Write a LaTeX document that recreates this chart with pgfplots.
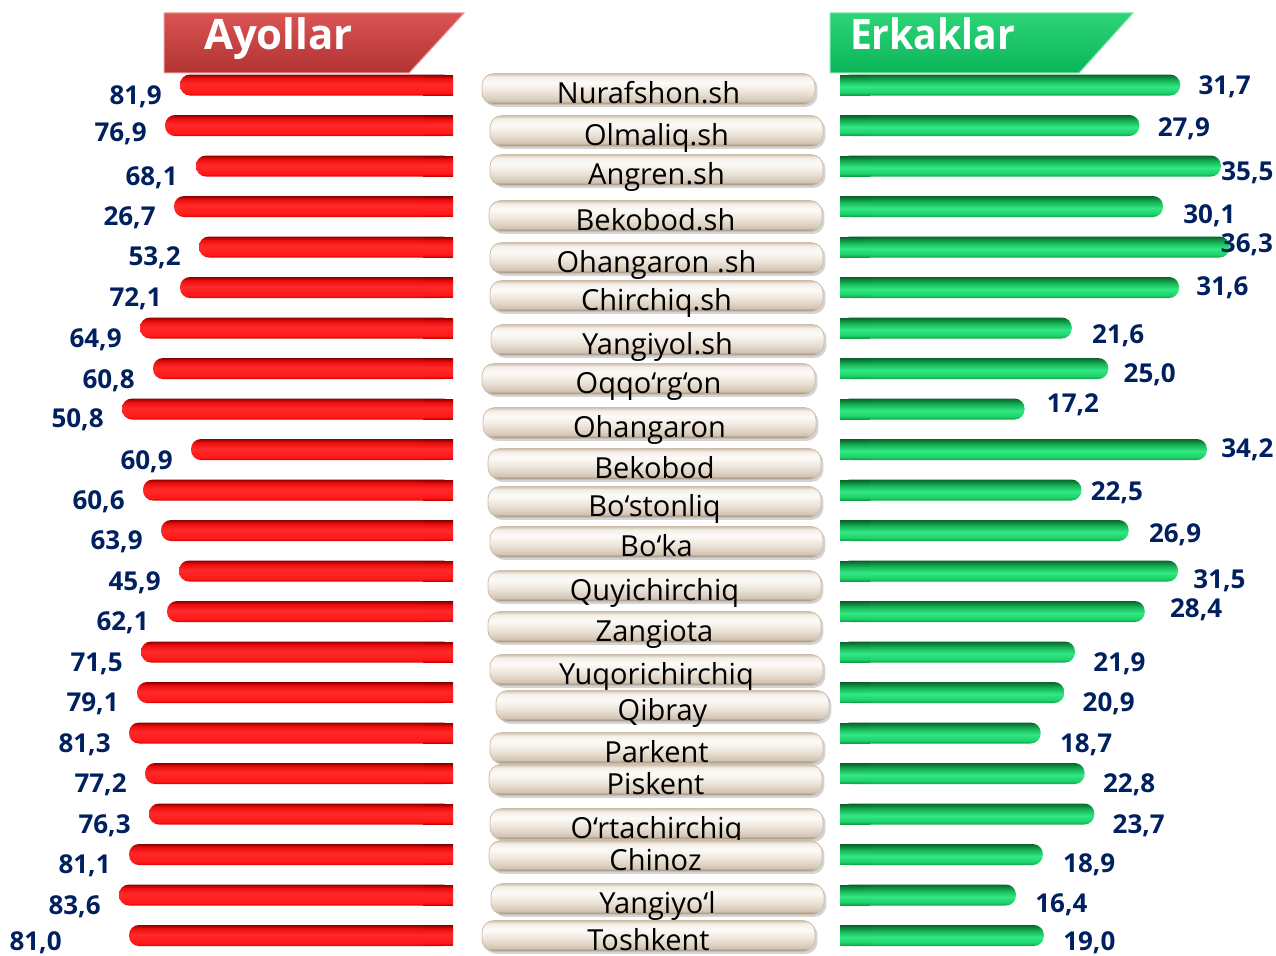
\documentclass[border=0pt]{standalone}
\usepackage{fontspec}
\setmainfont{Open Sans}
\usepackage{pgfplots}
\pgfplotsset{compat=1.18}
\usepackage{pgfplotstable}
\usetikzlibrary{shadows}

\definecolor{navy}{RGB}{0,32,96}
% red bar shading (25bp = bottom edge, 75bp = top edge after 90deg rotation)
\definecolor{rA}{RGB}{205,0,0}
\definecolor{rB}{RGB}{255,24,24}
\definecolor{rC}{RGB}{255,42,42}
\definecolor{rD}{RGB}{235,12,12}
\definecolor{rE}{RGB}{140,0,0}
\pgfdeclarehorizontalshading{redbar}{100bp}{color(0bp)=(rA); color(25bp)=(rA); color(31bp)=(rB); color(52bp)=(rC); color(67bp)=(rD); color(75bp)=(rE); color(100bp)=(rE)}
% green bar shading
\definecolor{gA}{RGB}{16,160,72}
\definecolor{gB}{RGB}{30,210,105}
\definecolor{gC}{RGB}{50,232,132}
\definecolor{gD}{RGB}{22,180,86}
\definecolor{gE}{RGB}{8,100,42}
\pgfdeclarehorizontalshading{greenbar}{100bp}{color(0bp)=(gA); color(25bp)=(gA); color(32bp)=(gB); color(46bp)=(gC); color(61bp)=(gD); color(75bp)=(gE); color(100bp)=(gE)}
% label box shading
\definecolor{bA}{RGB}{150,135,118}
\definecolor{bB}{RGB}{212,198,180}
\definecolor{bC}{RGB}{236,228,217}
\definecolor{bD}{RGB}{253,251,248}
\definecolor{bE}{RGB}{244,238,230}
\definecolor{bF}{RGB}{205,192,176}
\pgfdeclarehorizontalshading{boxshade}{100bp}{color(0bp)=(bA); color(25bp)=(bA); color(31bp)=(bB); color(45bp)=(bC); color(60bp)=(bD); color(70bp)=(bE); color(75bp)=(bF); color(100bp)=(bF)}
\definecolor{banR1}{RGB}{218,84,84}
\definecolor{banR2}{RGB}{178,50,50}
\definecolor{banG1}{RGB}{45,212,120}
\definecolor{banG2}{RGB}{10,182,88}

% row, drawn length of the red bar (px), female value, male value, label offsets (px)
\pgfplotstableread{
row len fv mv rdx rdy ldx ldy
1 273 81.9 31.7 18 0 -18 10
2 288 76.9 27.9 18 2 -18 7
3 257 68.1 35.5 0 5 -18 10
4 279 26.7 30.1 20 8 -18 10
5 254 53.2 36.3 -9 -4 -18 9
6 273 72.1 31.6 17 -1 -18 10
7 313 64.9 21.6 20 6 -18 10
8 300 60.8 25.0 15 5 -18 11
9 331 50.8 17.2 22 -6 -18 9
10 262 60.9 34.2 14 -1 -18 11
11 310 60.6 22.5 9 1 -18 10
12 292 63.9 26.9 20 3 -18 10
13 274 45.9 31.5 15 8 -18 10
14 286 62.1 28.4 25 -3 -18 10
15 312 71.5 21.9 18 10 -18 10
16 316 79.1 20.9 18 10 -18 10
17 324 81.3 18.7 19 10 -18 10
18 308 77.2 22.8 18 10 -18 10
19 304 76.3 23.7 18 10 -18 10
20 324 81.1 18.9 20 9 -18 10
21 334 83.6 16.4 19 8 -18 10
22 324 81.0 19.0 19 6 -67 6
}\data

\pgfplotstableread{
bx by name
648.5 89 Nurafshon.sh
656.5 131 Olmaliq.sh
656.5 170 Angren.sh
655.5 216 Bekobod.sh
656.5 258 {Ohangaron .sh}
656.5 296 Chirchiq.sh
657.5 340 Yangiyol.sh
648.5 379 Oqqo‘rg‘on
649.5 423 Ohangaron
654.5 464 Bekobod
654.5 502 Bo‘stonliq
656.5 542 Bo‘ka
654.5 586 Quyichirchiq
654.5 627 Zangiota
656.5 670 Yuqorichirchiq
662.5 706 Qibray
656.5 748 Parkent
655.5 780 Piskent
656.5 824 O‘rtachirchiq
655.5 856 Chinoz
657.5 899 Yangiyo‘l
648.5 936 Toshkent
}\names

\pgfplotsset{
  frame/.style={hide axis, scale only axis, anchor=south west,
    height=477.5pt, ymin=-1.098765, ymax=22.481481, y dir=reverse,
    enlargelimits=false},
  onebar/.style={xbar, bar width=0.5185, bar shift=0pt, draw=none,
    restrict y to domain=#1:#1, unbounded coords=discard},
  coverbar/.style={onebar=#1, bar width=0.494},
  numlab/.style={point meta=explicit,
    nodes near coords={\pgfmathprintnumber[fixed, fixed zerofill, precision=1, use comma, assume math mode=true]{\pgfplotspointmeta}}},
}
\tikzset{
  vfont/.style={font=\fontsize{13pt}{13pt}\selectfont\bfseries, text=navy,
    inner sep=0pt, text height=9.3pt, text depth=0pt},
}

\begin{document}
\begin{tikzpicture}
\path[use as bounding box] (0,0) rectangle (638pt,477.5pt);

% banners
\begin{scope}[x=0.5pt, y=-0.5pt, shift={(0pt,477.5pt)}]
  \shade[top color=banR1, bottom color=banR2, draw=banR1!60!white, line width=0.5pt]
    (164,13) -- (464,13) -- (409,73) -- (164,73) -- cycle;
  \node[anchor=base, text=white, font=\fontsize{21pt}{21pt}\selectfont\bfseries]
    at (278.5,50) {Ayollar};
  \shade[top color=banG1, bottom color=banG2, draw=banG1!60!white, line width=0.5pt]
    (830,13) -- (1133,13) -- (1079,73) -- (830,73) -- cycle;
  \node[anchor=base west, text=white, font=\fontsize{21pt}{21pt}\selectfont\bfseries]
    at (843,50) {\scalebox{0.93}[1]{Erkaklar}};
\end{scope}

% female (red) bars, left
\begin{axis}[frame, at={(0pt,0pt)}, width=638pt, xmin=-453, xmax=823, clip=false]
  \pgfplotsinvokeforeach{1,...,22}{
  \addplot[onebar=#1, shade, shading=redbar, shading angle=90,
    rounded corners=5pt, numlab,
    visualization depends on={\thisrow{ldx} \as \ldx},
    visualization depends on={\thisrow{ldy} \as \ldy},
    nodes near coords style={vfont, anchor=east, xshift=\ldx*0.5pt, yshift=-\ldy*0.5pt}]
    table[x expr=-\thisrow{len}, y=row, meta=fv] {\data};
  }
\end{axis}
\begin{axis}[frame, at={(211.5pt,0pt)}, width=15pt, xmin=-30, xmax=0, clip=true]
  \pgfplotsinvokeforeach{1,...,22}{
  \addplot[coverbar=#1, shade, shading=redbar, shading angle=90]
    table[x expr=-\thisrow{len}, y=row] {\data};
  }
\end{axis}

% male (green) bars, right
\begin{axis}[frame, at={(0pt,0pt)}, width=638pt, xmin=-78.2852, xmax=40.6337, clip=false]
  \pgfplotsinvokeforeach{1,...,22}{
  \addplot[onebar=#1, shade, shading=greenbar, shading angle=90,
    rounded corners=5pt, numlab,
    visualization depends on={\thisrow{rdx} \as \rdx},
    visualization depends on={\thisrow{rdy} \as \rdy},
    nodes near coords style={vfont, anchor=west, xshift=\rdx*0.5pt, yshift=-\rdy*0.5pt}]
    table[x=mv, y=row, meta=mv] {\data};
  }
\end{axis}
\begin{axis}[frame, at={(420pt,0pt)}, width=15pt, xmin=0, xmax=2.7959, clip=true]
  \pgfplotsinvokeforeach{1,...,22}{
  \addplot[coverbar=#1, shade, shading=greenbar, shading angle=90]
    table[x=mv, y=row] {\data};
  }
\end{axis}

% centre name boxes
\begin{axis}[hide axis, scale only axis, anchor=south west, at={(0pt,0pt)},
  width=638pt, height=477.5pt, xmin=0, xmax=1276, ymin=0, ymax=955, y dir=reverse,
  enlargelimits=false, clip=false]
  \addplot[draw=none, mark=none, point meta=explicit symbolic,
    nodes near coords,
    nodes near coords style={anchor=center, inner sep=0pt,
      font=\fontsize{14.5pt}{14.5pt}\selectfont, text=black,
      minimum width=166.5pt, minimum height=15.5pt, text height=14.3pt, text depth=0pt,
      rounded corners=6pt, draw={rgb,255:red,205;green,190;blue,172}, line width=0.4pt,
      shade, shading=boxshade, shading angle=90,
      drop shadow={shadow xshift=1.2pt, shadow yshift=-1.2pt, opacity=0.35}}]
    table[x=bx, y=by, meta=name] {\names};
\end{axis}
\end{tikzpicture}
\end{document}
